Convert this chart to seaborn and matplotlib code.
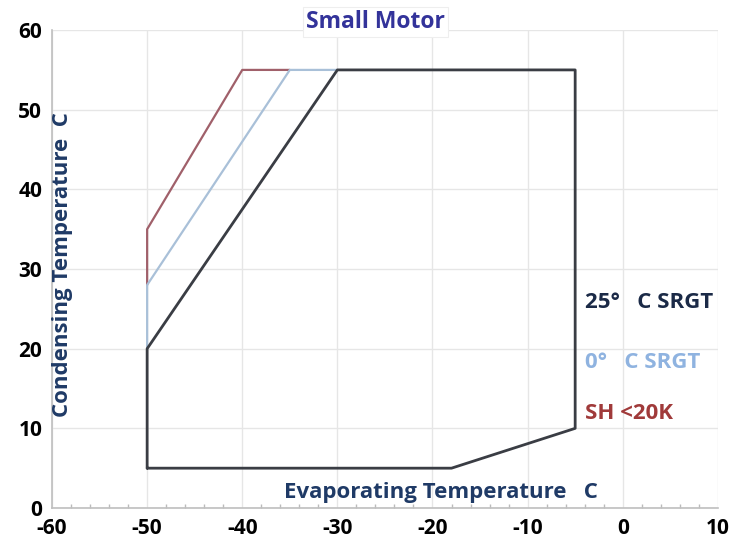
import matplotlib
matplotlib.use("Agg")
import matplotlib.pyplot as plt
import seaborn as sns
import pandas as pd
from matplotlib.ticker import MultipleLocator

sns.set_theme(style="whitegrid")
plt.rcParams['font.family'] = ['Open Sans', 'DejaVu Sans']
plt.rcParams['axes.unicode_minus'] = False

# Envelope outlines (evaporating temp, condensing temp)
srgt25_x = [-50, -50, -30, -5, -5, -18, -50]
srgt25_y = [5, 20, 55, 55, 10, 5, 5]
srgt0_x = [-50, -50, -35, -30]
srgt0_y = [20, 28, 55, 55]
sh20_x = [-50, -50, -40, -35]
sh20_y = [28, 35, 55, 55]

labels = ["25\u00b0   C SRGT", "0\u00b0   C SRGT", "SH <20K"]
colors = ["#1b2a47", "#8fb3e0", "#a03a3a"]
line_colors = ["#3a3d44", "#a9c0d8", "#a0606a"]

fig = plt.figure(figsize=(7.37, 5.47), dpi=100)
ax = fig.add_axes([0.0706, 0.0713, 0.9034, 0.8737])

df_sh = pd.DataFrame({"x": sh20_x, "y": sh20_y})
df_0 = pd.DataFrame({"x": srgt0_x, "y": srgt0_y})
df_25 = pd.DataFrame({"x": srgt25_x, "y": srgt25_y})
sns.lineplot(data=df_sh, x="x", y="y", sort=False, estimator=None, color=line_colors[2], lw=1.6, ax=ax)
sns.lineplot(data=df_0, x="x", y="y", sort=False, estimator=None, color=line_colors[1], lw=1.6, ax=ax)
sns.lineplot(data=df_25, x="x", y="y", sort=False, estimator=None, color=line_colors[0], lw=2.0, ax=ax)

ax.set_xlim(-60, 10)
ax.set_ylim(0, 60)
ax.xaxis.set_major_locator(MultipleLocator(10))
ax.yaxis.set_major_locator(MultipleLocator(10))
ax.xaxis.set_minor_locator(MultipleLocator(2))
ax.grid(True, which="major", color="#e6e6e6", lw=1.0)
ax.set_xlabel("")
ax.set_ylabel("")
for s in ["top", "right"]:
    ax.spines[s].set_visible(False)
for s in ["left", "bottom"]:
    ax.spines[s].set_color("#bfbfbf")
    ax.spines[s].set_linewidth(1.2)
ax.tick_params(axis="both", which="major", labelsize=15, length=5, color="#999999", direction="in", pad=3)
ax.tick_params(axis="x", which="minor", length=3, color="#bbbbbb", direction="in", bottom=True)
ax.tick_params(axis="y", which="major", direction="out", length=4)
ax.tick_params(axis="x", which="major", direction="inout", length=8)
for lbl in ax.get_xticklabels() + ax.get_yticklabels():
    lbl.set_fontweight("bold")
    lbl.set_color("black")

ax.text(-26.0, 61.0, "Small Motor", fontsize=16.5, fontweight="bold", color="#33339a",
        ha="center", va="center", clip_on=False,
        bbox=dict(boxstyle="square,pad=0.12", fc="white", ec="#eeeeee", lw=0.8))

ax.text(-58.9, 30.5, "Condensing Temperature  C", rotation=90, fontsize=16, fontweight="bold",
        color="#1f3a66", ha="center", va="center")
ax.text(-19.1, 2.0, "Evaporating Temperature   C", fontsize=16, fontweight="bold",
        color="#1f3a66", ha="center", va="center")

ax.text(-3.95, 25.85, labels[0], fontsize=16, fontweight="bold", color=colors[0], ha="left", va="center")
ax.text(-3.95, 18.3, labels[1], fontsize=16, fontweight="bold", color=colors[1], ha="left", va="center")
ax.text(-3.95, 11.9, labels[2], fontsize=16, fontweight="bold", color=colors[2], ha="left", va="center")

fig.savefig("out.png", dpi=100)
